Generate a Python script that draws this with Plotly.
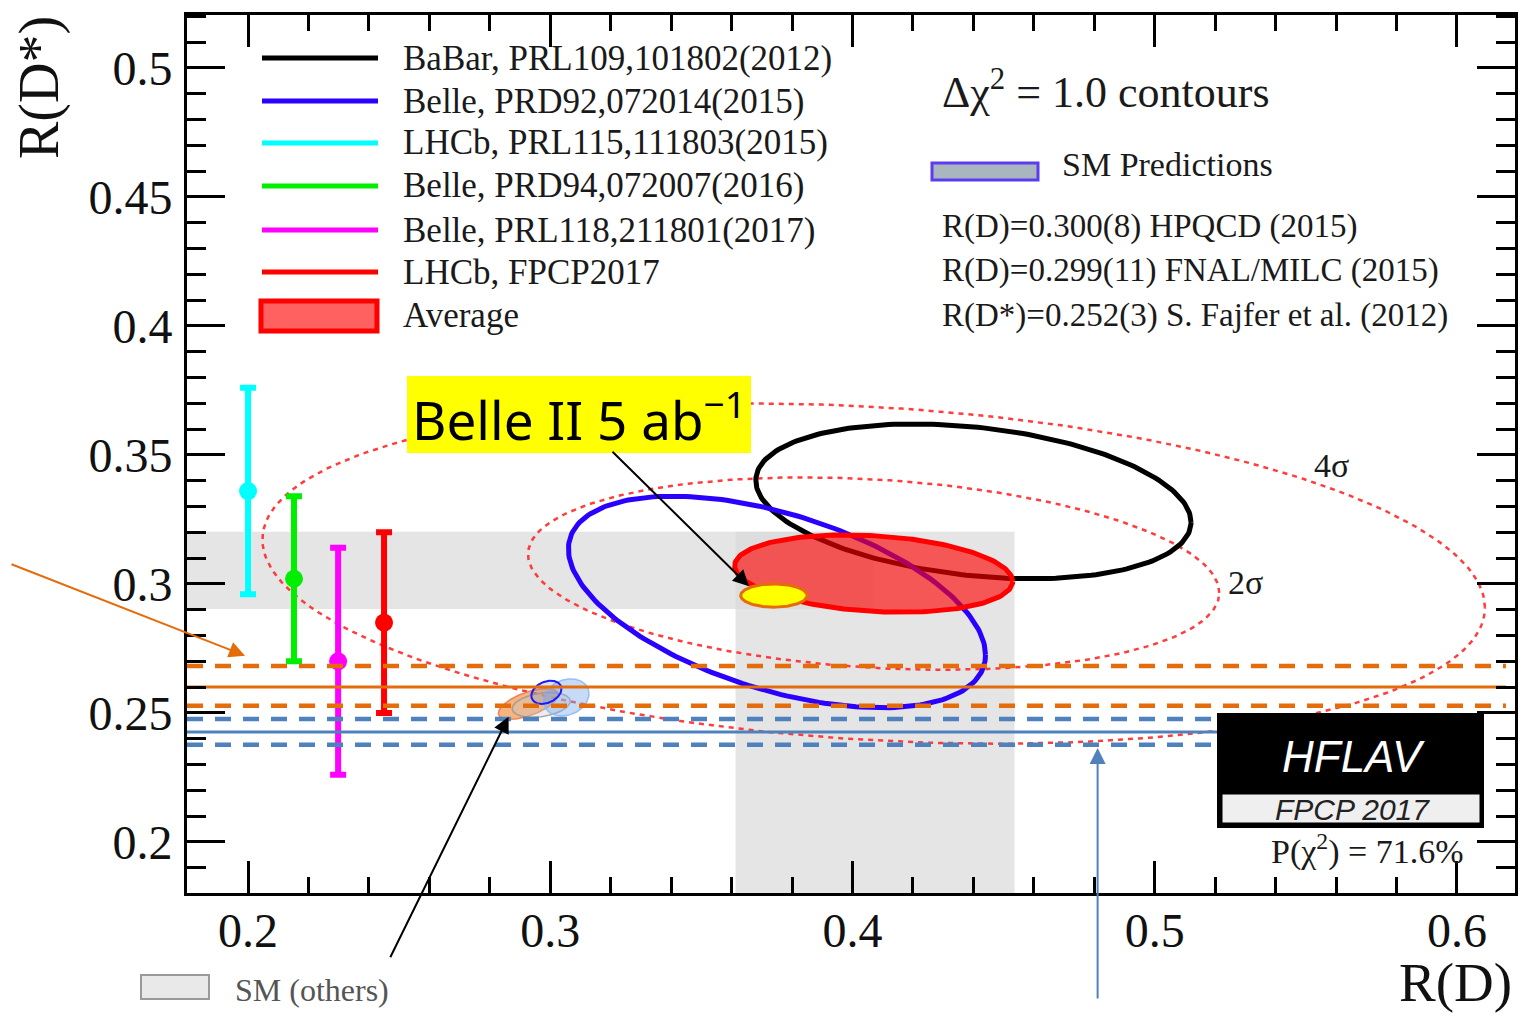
import numpy as np
import plotly.graph_objects as go

# ---------------- canvas / axes ----------------
W, H = 1528, 1017
ML, MR, MT, MB = 187, 13, 15, 124
X_RANGE = [0.1798, 0.6192]
Y_RANGE = [0.1802, 0.5205]

X_TICKS = [0.2, 0.3, 0.4, 0.5, 0.6]
X_TICK_LABELS = ["0.2", "0.3", "0.4", "0.5", "0.6"]
Y_TICKS = [0.2, 0.25, 0.3, 0.35, 0.4, 0.45, 0.5]
Y_TICK_LABELS = ["0.2", "0.25", "0.3", "0.35", "0.4", "0.45", "0.5"]

# ---------------- data ----------------
# 2D measurements: R(D), sigma, R(D*), sigma, correlation
BABAR = dict(rd=0.440, erd=0.072, rds=0.332, erds=0.030, rho=-0.27)
BELLE15 = dict(rd=0.375, erd=0.069, rds=0.293, erds=0.041, rho=-0.50)
AVERAGE = dict(rd=0.407, erd=0.046, rds=0.304, erds=0.015, rho=-0.20)
BELLE2_5AB = dict(rd=0.374, erd=0.011, rds=0.2955, erds=0.0045, rho=0.0)
SIGMA_LABELS = ["2σ", "4σ"]
SIGMA_DCHI2 = [6.18, 19.33]

# R(D*)-only measurements
RDS_NAMES = ["LHCb, PRL115,111803(2015)", "Belle, PRD94,072007(2016)",
             "Belle, PRL118,211801(2017)", "LHCb, FPCP2017"]
RDS_X = [0.200, 0.2152, 0.2298, 0.2450]
RDS_VAL = [0.336, 0.302, 0.270, 0.285]
RDS_ERR = [0.040, 0.032, 0.044, 0.035]
RDS_COLORS = ["#00ffff", "#00ee00", "#ff00ff", "#ff0000"]

# SM prediction cluster (small ellipses)
SM_RD = [0.2927, 0.2970, 0.3053, 0.2987]
SM_ERD = [0.0099, 0.0096, 0.0075, 0.0050]
SM_RDS = [0.2535, 0.2531, 0.2560, 0.2580]
SM_ERDS = [0.0060, 0.0048, 0.0072, 0.0045]
SM_RHO = [0.60, 0.30, 0.20, 0.30]
SM_FILL = ["rgba(240,140,60,0.65)", "rgba(200,200,200,0.35)",
           "rgba(130,175,235,0.45)", "rgba(120,140,200,0.25)"]
SM_LINE = ["rgba(240,110,60,0.8)", "rgba(150,150,150,0.8)",
           "rgba(140,185,245,0.9)", "#1a1aff"]

# SM (others) gray bands
SM_BAND_RDS = [0.2903, 0.3202]
SM_BAND_RD = [0.3613, 0.4536]
SM_BAND_HORIZ_END = 0.4070

# Horizontal prediction lines: low, central, high
ORANGE_RDS = [0.2528, 0.2600, 0.2682]
BLUE_RDS = [0.2377, 0.2426, 0.2476]
ORANGE_XEND = 0.6162
BLUE_XEND = 0.5300

LEGEND_NAMES = ["BaBar, PRL109,101802(2012)", "Belle, PRD92,072014(2015)",
                "LHCb, PRL115,111803(2015)", "Belle, PRD94,072007(2016)",
                "Belle, PRL118,211801(2017)", "LHCb, FPCP2017"]
LEGEND_COLORS = ["#000000", "#2a00ff", "#00ffff", "#00ee00", "#ff00ff", "#ff0000"]

SM_TEXT = ["R(D)=0.300(8) HPQCD (2015)", "R(D)=0.299(11) FNAL/MILC (2015)",
           "R(D*)=0.252(3) S. Fajfer et al. (2012)"]

SERIF = "Liberation Serif, Times New Roman, serif"
SANS = "Liberation Sans, Arial, sans-serif"

PW, PH = W - ML - MR, H - MT - MB


def px_x(px):
    return (px - ML) / PW


def px_y(py):
    return 1 - (py - MT) / PH


def ellipse(m, dchi2=1.0, n=240):
    t = np.linspace(0, 2 * np.pi, n)
    s = np.sqrt(dchi2)
    x = m["rd"] + s * m["erd"] * np.cos(t)
    y = m["rds"] + s * m["erds"] * (m["rho"] * np.cos(t) + np.sqrt(1 - m["rho"] ** 2) * np.sin(t))
    return x, y


def text(px, py, txt, size, color="#1a1a1a", family=SERIF, xa="left", ya="middle", angle=0):
    return dict(xref="paper", yref="paper", x=px_x(px), y=px_y(py), text=txt,
                showarrow=False, xanchor=xa, yanchor=ya, textangle=angle,
                font=dict(family=family, size=size, color=color))


fig = go.Figure()

# sigma contours of average
for lab, d2 in zip(SIGMA_LABELS, SIGMA_DCHI2):
    ex, ey = ellipse(AVERAGE, d2)
    fig.add_trace(go.Scatter(x=ex, y=ey, mode="lines",
                             line=dict(color="rgba(255,40,40,0.9)", width=2.5, dash="5px,5px"),
                             hoverinfo="skip", showlegend=False))

# SM cluster
for i in range(len(SM_RD)):
    m = dict(rd=SM_RD[i], erd=SM_ERD[i], rds=SM_RDS[i], erds=SM_ERDS[i], rho=SM_RHO[i])
    ex, ey = ellipse(m)
    fig.add_trace(go.Scatter(x=ex, y=ey, mode="lines", fill="toself",
                             fillcolor=SM_FILL[i], line=dict(color=SM_LINE[i], width=2 if i == 3 else 1.5),
                             hoverinfo="skip", showlegend=False))

# BaBar and Belle contours
for m, col in [(BABAR, "#000000"), (BELLE15, "#2a00ff")]:
    ex, ey = ellipse(m)
    fig.add_trace(go.Scatter(x=ex, y=ey, mode="lines", line=dict(color=col, width=5),
                             hoverinfo="skip", showlegend=False))

# R(D*)-only error bars
for name, x, v, e, c in zip(RDS_NAMES, RDS_X, RDS_VAL, RDS_ERR, RDS_COLORS):
    fig.add_trace(go.Scatter(x=[x], y=[v], mode="markers", name=name,
                             marker=dict(color=c, size=18),
                             error_y=dict(type="data", array=[e], color=c, thickness=6, width=8),
                             showlegend=False))

# Average
ex, ey = ellipse(AVERAGE)
fig.add_trace(go.Scatter(x=ex, y=ey, mode="lines", fill="toself",
                         fillcolor="rgba(255,0,0,0.62)", line=dict(color="#ff0000", width=5),
                         hoverinfo="skip", showlegend=False))

# horizontal prediction lines
for vals, col, xend in [(ORANGE_RDS, "#e46c0a", ORANGE_XEND), (BLUE_RDS, "#4f81bd", BLUE_XEND)]:
    for j, v in enumerate(vals):
        fig.add_trace(go.Scatter(x=[X_RANGE[0], xend], y=[v, v], mode="lines",
                                 line=dict(color=col, width=3 if j == 1 else 4.5,
                                           dash="solid" if j == 1 else "16px,12px"),
                                 hoverinfo="skip", showlegend=False))

# Belle II projection
ex, ey = ellipse(BELLE2_5AB)
fig.add_trace(go.Scatter(x=ex, y=ey, mode="lines", fill="toself", fillcolor="#ffff00",
                         line=dict(color="#e46c0a", width=3), hoverinfo="skip", showlegend=False))

shapes = []
# gray SM bands
band_col = "rgba(218,218,218,0.7)"
shapes.append(dict(type="rect", xref="x", yref="y", x0=X_RANGE[0], x1=SM_BAND_HORIZ_END,
                   y0=SM_BAND_RDS[0], y1=SM_BAND_RDS[1], fillcolor=band_col, line_width=0, layer="below"))
shapes.append(dict(type="rect", xref="x", yref="y", x0=SM_BAND_RD[0], x1=SM_BAND_RD[1],
                   y0=Y_RANGE[0], y1=SM_BAND_RDS[1], fillcolor=band_col, line_width=0, layer="below"))

annotations = []
# legend (top-left)
legend_rows = [58, 101, 143, 186, 230, 272]
for name, col, row in zip(LEGEND_NAMES, LEGEND_COLORS, legend_rows):
    shapes.append(dict(type="line", xref="paper", yref="paper", x0=px_x(262), x1=px_x(378),
                       y0=px_y(row), y1=px_y(row), line=dict(color=col, width=5)))
    annotations.append(text(401, row, name, 35))
shapes.append(dict(type="rect", xref="paper", yref="paper", x0=px_x(261), x1=px_x(377),
                   y0=px_y(331), y1=px_y(301), fillcolor="rgba(255,0,0,0.62)",
                   line=dict(color="#ff0000", width=5)))
annotations.append(text(401, 315, "Average", 35))

# right info block
annotations.append(text(940, 90, "Δχ<sup>2</sup> = 1.0 contours", 44))
shapes.append(dict(type="rect", xref="paper", yref="paper", x0=px_x(932), x1=px_x(1038),
                   y0=px_y(180), y1=px_y(163), fillcolor="#a9b6bf",
                   line=dict(color="#5b3cf0", width=3)))
annotations.append(text(1060, 165, "SM Predictions", 34))
for txt, row in zip(SM_TEXT, [227, 271, 315]):
    annotations.append(text(940, row, txt, 33))

# sigma labels
annotations.append(text(1331, 465, "4σ", 34, xa="center"))
annotations.append(text(1245, 582, "2σ", 34, xa="center"))

# HFLAV box
shapes.append(dict(type="rect", xref="paper", yref="paper", x0=px_x(1218), x1=px_x(1483),
                   y0=px_y(827), y1=px_y(714), fillcolor="#000000",
                   line=dict(color="#000000", width=2), layer="above"))
shapes.append(dict(type="rect", xref="paper", yref="paper", x0=px_x(1222), x1=px_x(1480),
                   y0=px_y(823), y1=px_y(794), fillcolor="#efefef",
                   line=dict(color="#000000", width=1), layer="above"))
annotations.append(text(1353, 756, "<i>HFLAV</i>", 44, color="#ffffff", family=SANS, xa="center"))
annotations.append(text(1352, 809, "<i>FPCP 2017</i>", 30, color="#222222", family=SANS, xa="center"))
annotations.append(text(1367, 849, "P(χ<sup>2</sup>) = 71.6%", 34, xa="center"))

# Belle II label
shapes.append(dict(type="rect", xref="paper", yref="paper", x0=px_x(407), x1=px_x(751),
                   y0=px_y(453), y1=px_y(376), fillcolor="#ffff00", line_width=0, layer="above"))
annotations.append(text(579, 417, "Belle II 5 ab<sup>−1</sup>", 53, color="#000000",
                        family="Noto Sans, Open Sans, sans-serif", xa="center"))

# arrows
arrow = dict(text="", showarrow=True, arrowhead=2, arrowsize=1.6, arrowwidth=2,
             axref="pixel", ayref="pixel", xref="x", yref="y")
annotations.append(dict(arrow, x=BELLE2_5AB["rd"] - 0.75 * BELLE2_5AB["erd"],
                        y=BELLE2_5AB["rds"] + 0.8 * BELLE2_5AB["erds"],
                        ax=-138, ay=-136, arrowcolor="#000000"))
annotations.append(dict(arrow, x=SM_RD[0] - 0.0065, y=SM_RDS[0] - 0.005,
                        ax=-119, ay=242, arrowcolor="#000000"))
annotations.append(dict(arrow, x=0.199, y=ORANGE_RDS[2] + 0.004,
                        ax=-235, ay=-92, arrowcolor="#e46c0a"))
annotations.append(dict(arrow, x=0.4811, y=BLUE_RDS[0] - 0.0013,
                        ax=0, ay=252, arrowcolor="#4f81bd"))

# axis titles
annotations.append(text(40, 88, "R(D*)", 56, color="#111111", xa="center", angle=-90))
annotations.append(text(1455, 982, "R(D)", 55, color="#111111", xa="center"))

# SM (others) legend at bottom
shapes.append(dict(type="rect", xref="paper", yref="paper", x0=px_x(141), x1=px_x(209),
                   y0=px_y(999), y1=px_y(975), fillcolor="#e9e9e9",
                   line=dict(color="#9a9a9a", width=2)))
annotations.append(text(233, 990, "SM (others)", 32, color="#555555"))

axis_common = dict(showgrid=False, zeroline=False, showline=True, linecolor="#000000",
                   linewidth=3, mirror="allticks", ticks="inside", tickcolor="#000000",
                   tickwidth=3, tickfont=dict(family=SERIF, size=48, color="#111111"))

fig.update_layout(
    width=W, height=H,
    margin=dict(l=ML, r=MR, t=MT, b=MB, pad=0, autoexpand=False),
    paper_bgcolor="#ffffff", plot_bgcolor="#ffffff",
    showlegend=False,
    shapes=shapes, annotations=annotations,
    xaxis=dict(range=X_RANGE, tickmode="array", tickvals=X_TICKS, ticktext=X_TICK_LABELS,
               ticklen=32, ticklabelstandoff=-7, automargin=False,
               minor=dict(dtick=0.02, tick0=0.2, ticklen=16, tickwidth=3, ticks="inside",
                          tickcolor="#000000", showgrid=False),
               **axis_common),
    yaxis=dict(range=Y_RANGE, tickmode="array", tickvals=Y_TICKS, ticktext=Y_TICK_LABELS,
               ticklen=38, ticklabelstandoff=2, automargin=False,
               minor=dict(dtick=0.01, tick0=0.2, ticklen=19, tickwidth=3, ticks="inside",
                          tickcolor="#000000", showgrid=False),
               **axis_common),
)

fig.write_html("out.html", config={"displayModeBar": False},
               post_script="document.body.style.margin='0px';document.body.style.overflow='hidden';")
